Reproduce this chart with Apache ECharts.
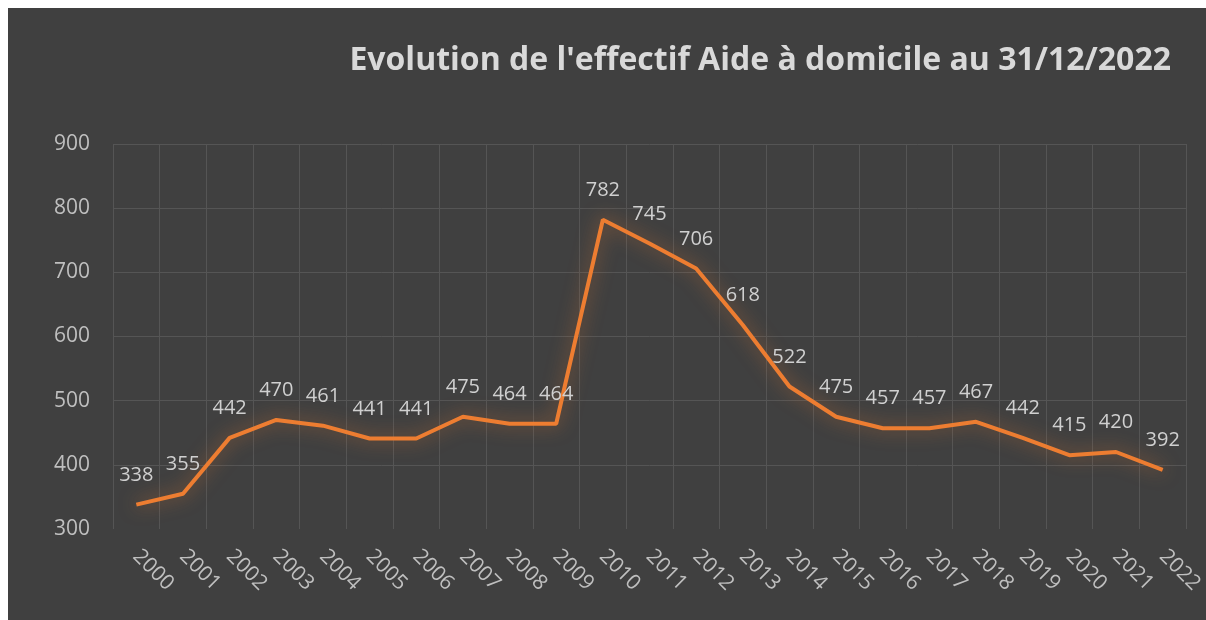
<!DOCTYPE html>
<html>
<head>
<meta charset="utf-8">
<script src="https://cdn.jsdelivr.net/npm/echarts@6/dist/echarts.min.js"></script>
<style>
  html, body { margin: 0; padding: 0; background: #ffffff; }
  #main { position: absolute; left: 8px; top: 8px; width: 1198px; height: 612px; }
</style>
</head>
<body>
<div id="main"></div>
<script>
// données
var annees = ['2000','2001','2002','2003','2004','2005','2006','2007','2008','2009','2010',
              '2011','2012','2013','2014','2015','2016','2017','2018','2019','2020','2021','2022'];
var effectifs = [338, 355, 442, 470, 461, 441, 441, 475, 464, 464, 782,
                 745, 706, 618, 522, 475, 457, 457, 467, 442, 415, 420, 392];
var titre = "Evolution de l'effectif Aide à domicile au 31/12/2022";

var myChart = echarts.init(document.getElementById('main'));

var option = {
    backgroundColor: '#404040',
    animation: false,
    title: {
        text: titre,
        right: 30,
        top: 32,
        textStyle: {
            color: '#d9d9d9',
            fontFamily: 'Open Sans',
            fontWeight: 'bold',
            fontSize: 32
        }
    },
    grid: {
        left: 105,
        right: 12,
        top: 136,
        bottom: 91
    },
    xAxis: {
        type: 'category',
        data: annees,
        boundaryGap: true,
        axisLine: { show: false },
        axisTick: { show: false },
        axisLabel: {
            interval: 0,
            rotate: -45,
            margin: 24,
            color: '#bfbfbf',
            fontFamily: 'Open Sans',
            fontSize: 21
        },
        splitLine: {
            show: true,
            interval: 0,
            lineStyle: { color: '#555555', width: 1 }
        }
    },
    yAxis: {
        type: 'value',
        min: 300,
        max: 900,
        interval: 100,
        axisLine: { show: false },
        axisTick: { show: false },
        axisLabel: {
            margin: 23,
            color: '#bfbfbf',
            fontFamily: 'Open Sans',
            fontSize: 21
        },
        splitLine: {
            lineStyle: {
                color: ['rgba(0,0,0,0)', '#555555', '#555555', '#555555', '#555555', '#555555', '#555555'],
                width: 1
            }
        }
    },
    series: [{
        name: 'Effectif',
        type: 'line',
        data: effectifs,
        symbol: 'circle',
        symbolSize: 1,
        showSymbol: true,
        itemStyle: { color: 'rgba(0,0,0,0)' },
        lineStyle: {
            color: '#ed7d31',
            width: 4,
            shadowColor: 'rgba(237,125,49,0.6)',
            shadowBlur: 18
        },
        label: {
            show: true,
            position: 'top',
            distance: 19,
            color: '#d0d0d0',
            fontFamily: 'Open Sans',
            fontSize: 20
        },
        labelLayout: { hideOverlap: false }
    }]
};

myChart.setOption(option);
</script>
</body>
</html>
